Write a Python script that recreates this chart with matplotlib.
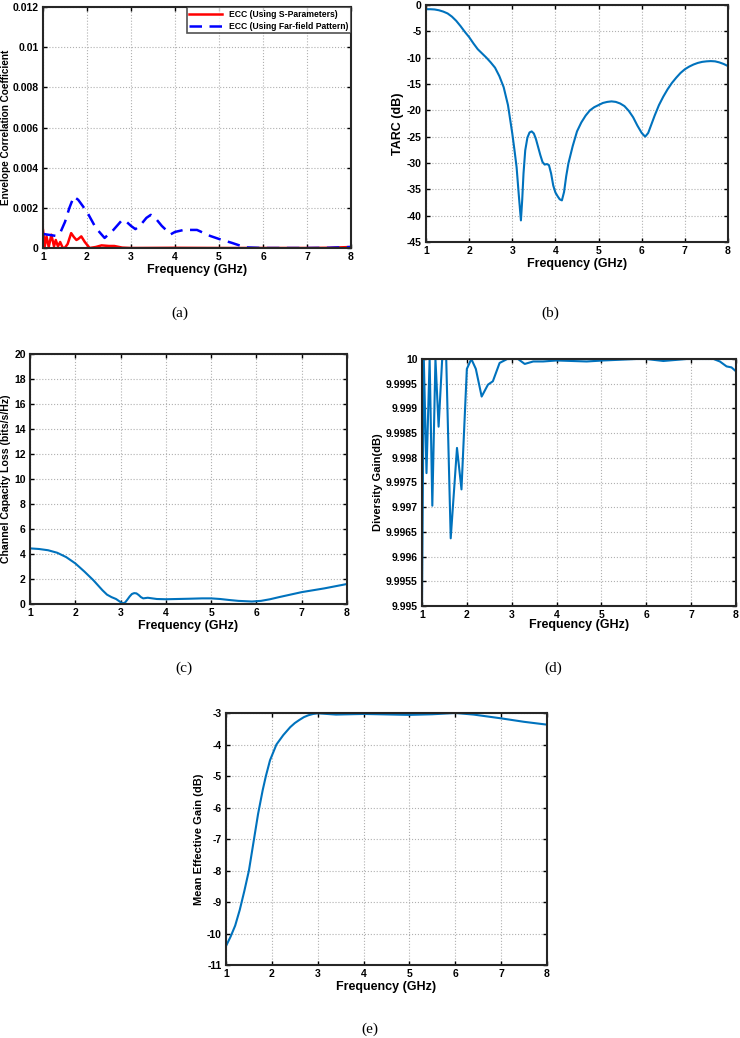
import numpy as np
import matplotlib
matplotlib.use("Agg")
import matplotlib.pyplot as plt

plt.rcParams['font.family'] = ['Liberation Sans', 'DejaVu Sans']
plt.rcParams['font.weight'] = 'bold'
plt.rcParams['axes.unicode_minus'] = False

# (a) ECC
ecc_s_f = [1.0, 1.04, 1.08, 1.13, 1.19, 1.25, 1.29, 1.34, 1.39, 1.45, 1.5, 1.56, 1.64, 1.7, 1.76, 1.8,
           1.87, 1.95, 2.06, 2.2, 2.33, 2.5, 2.62, 2.8, 3.0, 4.0, 5.0, 6.0, 7.0, 7.5, 8.0]
ecc_s = [0.0009, 0.00008, 0.00058, 0.00005, 0.00066, 0.00008, 0.0004, 0.00008, 0.0003, 0.0, 0.00002, 0.0002,
         0.00074, 0.00055, 0.0004, 0.00045, 0.00058, 0.0003, 0.0, 0.00005, 0.00013, 0.0001, 0.0001, 0.00002,
         0.0, 0.00001, 0.0, 0.0, 0.0, 0.00001, 0.00005]
ecc_ff_f = [1.0, 1.15, 1.3, 1.4, 1.5, 1.6, 1.7, 1.8, 2.0, 2.2, 2.4, 2.6, 2.8, 2.9, 3.0, 3.1, 3.2, 3.35, 3.45,
            3.55, 3.7, 3.9, 4.0, 4.2, 4.5, 4.8, 5.0, 5.3, 5.6, 6.0, 7.0, 7.5, 8.0]
ecc_ff = [0.0007, 0.00065, 0.0006, 0.0008, 0.0013, 0.002, 0.00256, 0.0024, 0.0018, 0.001, 0.0005, 0.0009,
          0.0014, 0.0013, 0.0011, 0.00094, 0.0011, 0.0015, 0.00165, 0.0015, 0.0011, 0.00068, 0.0008, 0.0009,
          0.0009, 0.0006, 0.00045, 0.00025, 0.00003, 0.0, 0.0, 0.00001, 0.00005]

# (b) TARC
tarc_f = [1.0, 1.1, 1.2, 1.3, 1.4, 1.5, 1.6, 1.7, 1.8, 1.9, 2.0, 2.1, 2.2, 2.3, 2.4, 2.5, 2.6, 2.7, 2.8,
          2.9, 3.0, 3.05, 3.1, 3.15, 3.2, 3.23, 3.26, 3.3, 3.35, 3.4, 3.45, 3.5, 3.55, 3.6, 3.65, 3.7, 3.75,
          3.8, 3.85, 3.9, 3.95, 4.0, 4.05, 4.1, 4.15, 4.2, 4.25, 4.3, 4.4, 4.5, 4.6, 4.7, 4.8, 4.9, 5.0, 5.1,
          5.2, 5.3, 5.4, 5.5, 5.6, 5.7, 5.8, 5.9, 6.0, 6.08, 6.15, 6.2, 6.3, 6.4, 6.5, 6.6, 6.7, 6.8, 6.9,
          7.0, 7.1, 7.2, 7.3, 7.4, 7.5, 7.6, 7.7, 7.8, 7.9, 8.0]
tarc = [-0.8, -0.8, -0.85, -1.0, -1.25, -1.6, -2.2, -3.0, -4.0, -5.1, -6.1, -7.3, -8.4, -9.2, -10.0, -10.9,
        -11.9, -13.5, -15.6, -19.0, -24.4, -27.5, -30.8, -36.0, -40.9, -37.0, -32.0, -27.6, -25.2, -24.2,
        -24.0, -24.4, -25.5, -27.0, -28.5, -29.8, -30.3, -30.2, -30.4, -32.0, -34.3, -35.6, -36.3, -36.9,
        -37.1, -35.5, -32.5, -30.1, -26.8, -24.0, -22.3, -21.0, -20.0, -19.4, -19.0, -18.6, -18.4, -18.3,
        -18.4, -18.7, -19.2, -20.1, -21.3, -22.9, -24.3, -25.0, -24.3, -23.2, -21.0, -19.0, -17.4, -16.0,
        -14.8, -13.8, -12.9, -12.2, -11.7, -11.3, -11.0, -10.8, -10.7, -10.65, -10.7, -10.9, -11.2, -11.6]

# (c) CCL
ccl_f = [1.0, 1.2, 1.4, 1.6, 1.8, 2.0, 2.2, 2.4, 2.6, 2.7, 2.8, 2.9, 3.0, 3.05, 3.1, 3.15, 3.2, 3.25, 3.3,
         3.35, 3.4, 3.45, 3.5, 3.6, 3.7, 3.8, 4.0, 4.5, 4.8, 5.0, 5.2, 5.4, 5.6, 5.9, 6.1, 6.3, 6.5, 7.0,
         7.5, 8.0]
ccl = [4.45, 4.4, 4.3, 4.1, 3.75, 3.25, 2.6, 1.9, 1.1, 0.75, 0.55, 0.4, 0.15, 0.05, 0.12, 0.35, 0.6, 0.8,
       0.87, 0.85, 0.72, 0.55, 0.45, 0.5, 0.45, 0.4, 0.38, 0.42, 0.45, 0.45, 0.4, 0.32, 0.25, 0.2, 0.25,
       0.38, 0.55, 0.95, 1.25, 1.6]

# (d) DG
dg_f = [1.0, 1.04, 1.1, 1.17, 1.23, 1.3, 1.37, 1.45, 1.54, 1.64, 1.78, 1.88, 2.0, 2.1, 2.2, 2.33, 2.47,
        2.58, 2.73, 2.9, 3.14, 3.29, 3.48, 3.7, 4.0, 4.67, 5.04, 5.78, 6.0, 6.38, 6.9, 7.5, 7.64, 7.79, 7.9, 8.0]
dg = [9.995, 10.0, 9.99769, 10.0, 9.99703, 10.0, 9.99863, 10.0, 10.0, 9.99637, 9.9982, 9.99736, 9.9998,
      10.0, 9.9998, 9.99924, 9.99948, 9.99955, 9.99992, 10.0, 10.0, 9.9999, 9.99995, 9.99995, 9.99997,
      9.99995, 9.99997, 10.0, 10.0, 9.99996, 10.0, 10.0, 9.99995, 9.99985, 9.99983, 9.99975]

# (e) MEG
meg_f = [1.0, 1.05, 1.1, 1.2, 1.3, 1.4, 1.5, 1.6, 1.7, 1.8, 1.87, 1.96, 2.1, 2.25, 2.4, 2.5, 2.6, 2.7, 2.8,
         2.9, 3.0, 3.4, 4.0, 5.0, 5.5, 6.0, 6.4, 7.0, 7.5, 8.0]
meg = [-10.4, -10.25, -10.1, -9.75, -9.25, -8.65, -8.0, -7.1, -6.2, -5.45, -5.0, -4.5, -4.0, -3.7, -3.45,
       -3.32, -3.22, -3.13, -3.07, -3.03, -3.01, -3.05, -3.03, -3.06, -3.04, -3.0, -3.05, -3.17, -3.28, -3.37]

blue = '#0072BD'
W, H = 740, 1038
fig = plt.figure(figsize=(W / 100, H / 100), dpi=100)


def axes_px(left, top, right, bottom):
    ax = fig.add_axes([left / W, 1 - bottom / H, (right - left) / W, (bottom - top) / H])
    ax.grid(True, linestyle=':', color='#b0b0b0', linewidth=0.8)
    ax.tick_params(direction='in', top=True, right=True, labelsize=7.5, length=3, width=1, pad=3)
    for s in ax.spines.values():
        s.set_linewidth(1.5)
        s.set_color('#262626')
    ax.set_xlim(1, 8)
    ax.set_xticks(range(1, 9))
    ax.set_xlabel('Frequency (GHz)', fontsize=9, fontweight='bold', labelpad=1)
    return ax


def caption(x, y, s):
    fig.text(x / W, 1 - y / H, s, ha='center', va='center', fontsize=11,
             family=['Liberation Serif', 'DejaVu Serif'], fontweight='normal')


# (a)
ax = axes_px(43, 7, 351, 248)
ax.plot(ecc_s_f, ecc_s, color='red', linewidth=1.8, label='ECC (Using S-Parameters)')
ax.plot(ecc_ff_f, ecc_ff, color='blue', linewidth=1.8, linestyle=(0, (5, 3)), label='ECC (Using Far-field Pattern)')
ax.set_ylim(0, 0.012)
ax.set_yticks(np.arange(0, 0.0121, 0.002))
ax.set_yticklabels(['0', '0.002', '0.004', '0.006', '0.008', '0.01', '0.012'])
ax.set_ylabel('Envelope Correlation Coefficient', fontsize=7.2, fontweight='bold', labelpad=1)
leg = ax.legend(loc='upper right', fontsize=6.2, frameon=True, fancybox=False, borderpad=0.3,
                handlelength=3.8, labelspacing=0.35, borderaxespad=0)
leg.get_frame().set_edgecolor('#262626')
leg.get_frame().set_linewidth(1.2)
caption(180, 313, '(a)')

# (b)
ax = axes_px(426, 5, 728, 242)
ax.plot(tarc_f, tarc, color=blue, linewidth=1.5)
ax.set_ylim(-45, 0)
ax.set_yticks(range(-45, 1, 5))
ax.set_ylabel('TARC (dB)', fontsize=9, fontweight='bold', labelpad=2)
caption(550, 313, '(b)')

# (c)
ax = axes_px(30, 354, 347, 604)
ax.plot(ccl_f, ccl, color=blue, linewidth=1.5)
ax.set_ylim(0, 20)
ax.set_yticks(range(0, 21, 2))
ax.set_ylabel('Channel Capacity Loss (bits/s/Hz)', fontsize=7.6, fontweight='bold', labelpad=2)
caption(184, 668, '(c)')

# (d)
ax = axes_px(422, 359, 736, 606)
ax.plot(dg_f, dg, color=blue, linewidth=1.5)
ax.set_ylim(9.995, 10)
yt = np.linspace(9.995, 10, 11)
ax.set_yticks(yt)
ax.set_yticklabels(['%g' % round(v, 4) for v in yt])
ax.set_ylabel('Diversity Gain(dB)', fontsize=8, fontweight='bold', labelpad=2)
ax.xaxis.labelpad = -1
caption(553, 668, '(d)')

# (e)
ax = axes_px(226, 713, 547, 965)
ax.plot(meg_f, meg, color=blue, linewidth=1.5)
ax.set_ylim(-11, -3)
ax.set_yticks(range(-11, -2))
ax.set_ylabel('Mean Effective Gain (dB)', fontsize=8, fontweight='bold', labelpad=2)
caption(370, 1029, '(e)')

fig.savefig('out.png', dpi=100)
